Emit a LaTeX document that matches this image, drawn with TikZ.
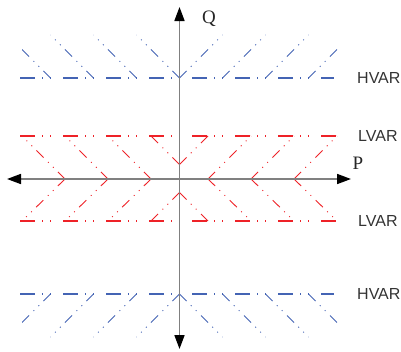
\documentclass[tikz,border=0pt]{standalone}
\usepackage{fontspec}
\setmainfont{Liberation Serif}
\newfontfamily\arialf{Liberation Sans}
\usetikzlibrary{arrows.meta}
\definecolor{hblue}{RGB}{68,100,180}
\definecolor{lred}{RGB}{238,34,40}
\definecolor{axgray}{RGB}{128,128,128}
\tikzset{
  axisline/.style={draw=axgray, line width=1.7pt,
    {Triangle[length=14pt,width=10pt,color=black]}-{Triangle[length=14pt,width=10pt,color=black]}},
  mainline/.style={line width=1.8pt, line cap=butt,
    dash pattern=on 15pt off 7pt on 1.2pt off 7pt on 1.2pt off 11.6pt},
  hatchline/.style={line width=0.9pt,
    dash pattern=on 10pt off 6pt on 1pt off 6pt on 1pt off 6.4pt},
  varlabel/.style={anchor=west, inner sep=0pt, font=\arialf\fontsize{16}{16}\selectfont, text=black!80},
  axlabel/.style={inner sep=0pt, font=\fontsize{19}{19}\selectfont, text=black!85},
}
\begin{document}
\begin{tikzpicture}[x=1pt,y=-1pt]
\useasboundingbox (0,0) rectangle (401,351);
\def\cx{179.5}
% blue hatches
\begin{scope}
\clip (22,0) rectangle (337,351);
\foreach \o in {0,43,86,129}{
  \draw[hblue,hatchline] (\cx-\o,78) -- (\cx-\o-43,35);
  \draw[hblue,hatchline] (\cx+\o,78) -- (\cx+\o+43,35);
  \draw[hblue,hatchline] (\cx-\o,294) -- (\cx-\o-43,337);
  \draw[hblue,hatchline] (\cx+\o,294) -- (\cx+\o+43,337);
}
\end{scope}
% red chevrons
\foreach \a in {22,65,108}{
  \draw[lred,hatchline] (\a+43,179) -- (\a,136);
  \draw[lred,hatchline] (\a+43,179) -- (\a,221);
}
\foreach \a in {337,294,251}{
  \draw[lred,hatchline] (\a-43,179) -- (\a,136);
  \draw[lred,hatchline] (\a-43,179) -- (\a,221);
}
\draw[lred,hatchline] (\cx,164.5) -- (151,136);
\draw[lred,hatchline] (\cx,164.5) -- (208,136);
\draw[lred,hatchline] (\cx,192.5) -- (151,221);
\draw[lred,hatchline] (\cx,192.5) -- (208,221);
% main lines
\coordinate (h1l) at (20,78);  \coordinate (h1r) at (334,78);
\coordinate (l1l) at (20,136); \coordinate (l1r) at (337,136);
\coordinate (l2l) at (20,221); \coordinate (l2r) at (337,221);
\coordinate (h2l) at (20,294); \coordinate (h2r) at (334,294);
\draw[hblue,mainline] (h1l) -- (h1r);
\draw[hblue,mainline] (h2l) -- (h2r);
\draw[lred,mainline] (l1l) -- (l1r);
\draw[lred,mainline] (l2l) -- (l2r);
% axes
\coordinate (top) at (\cx,7);
\coordinate (bot) at (\cx,349);
\coordinate (left) at (7,179);
\coordinate (right) at (351,179);
\draw[axisline] (bot) -- (top);
\draw[axisline] (left) -- (right);
% labels
\node[axlabel] (Q) at (209,19) {Q};
\node[axlabel] (P) at (358,163) {P};
\node[varlabel] (hv1) at (357,78) {HVAR};
\node[varlabel] (lv1) at (358,136) {LVAR};
\node[varlabel] (lv2) at (358,221) {LVAR};
\node[varlabel] (hv2) at (357,294) {HVAR};
\end{tikzpicture}
\end{document}
